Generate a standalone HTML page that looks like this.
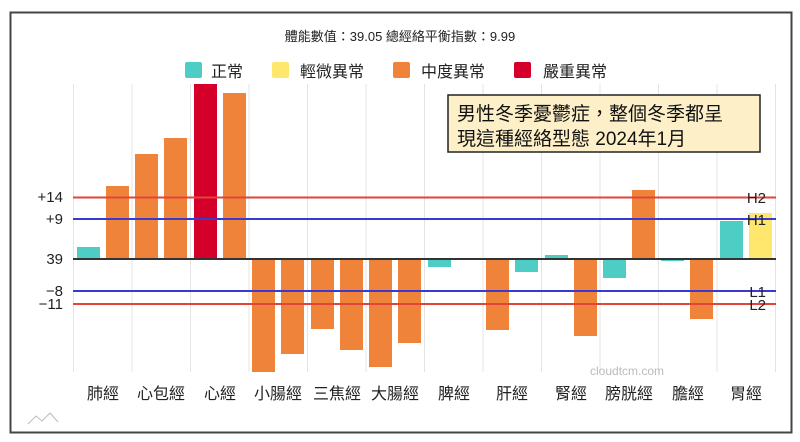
<!DOCTYPE html>
<html><head><meta charset="utf-8"><style>
html,body{margin:0;padding:0;background:#fff;}
svg{display:block;font-family:"Liberation Sans","Noto Sans CJK TC",sans-serif;}
</style></head><body>
<svg width="800" height="442" viewBox="0 0 800 442" xmlns="http://www.w3.org/2000/svg">
<rect x="0" y="0" width="800" height="442" fill="#fff"/>
<rect x="10.5" y="12.5" width="781" height="420" fill="#fff" stroke="#444" stroke-width="2"/>
<text x="400" y="41" font-size="13" text-anchor="middle" fill="#222">體能數值：39.05 總經絡平衡指數：9.99</text>
<g font-size="16" fill="#222">
<rect x="185" y="62" width="17" height="16" rx="2" fill="#4ecdc4"/><text x="211" y="77">正常</text>
<rect x="272" y="62" width="17" height="16" rx="2" fill="#ffe66d"/><text x="300" y="77">輕微異常</text>
<rect x="393" y="62" width="17" height="16" rx="2" fill="#f0833a"/><text x="421" y="77">中度異常</text>
<rect x="514" y="62" width="17" height="16" rx="2" fill="#d4002a"/><text x="543" y="77">嚴重異常</text>
</g>
<g stroke="#e4e4e4" stroke-width="1">
<line x1="73.5" y1="84" x2="73.5" y2="372"/><line x1="132" y1="84" x2="132" y2="372"/><line x1="190.5" y1="84" x2="190.5" y2="372"/><line x1="249" y1="84" x2="249" y2="372"/><line x1="307.5" y1="84" x2="307.5" y2="372"/><line x1="366" y1="84" x2="366" y2="372"/><line x1="424.5" y1="84" x2="424.5" y2="372"/><line x1="483" y1="84" x2="483" y2="372"/><line x1="541.5" y1="84" x2="541.5" y2="372"/><line x1="600" y1="84" x2="600" y2="372"/><line x1="658.5" y1="84" x2="658.5" y2="372"/><line x1="717" y1="84" x2="717" y2="372"/><line x1="775.5" y1="84" x2="775.5" y2="372"/>
</g>
<g>
<rect x="77" y="247" width="23" height="12" fill="#4ecdc4"/>
<rect x="106" y="186" width="23" height="73" fill="#f0833a"/>
<rect x="135" y="154" width="23" height="105" fill="#f0833a"/>
<rect x="164" y="138" width="23" height="121" fill="#f0833a"/>
<rect x="194" y="84" width="23" height="175" fill="#d4002a"/>
<rect x="223" y="93" width="23" height="166" fill="#f0833a"/>
<rect x="252" y="259" width="23" height="113" fill="#f0833a"/>
<rect x="281" y="259" width="23" height="95" fill="#f0833a"/>
<rect x="311" y="259" width="23" height="70" fill="#f0833a"/>
<rect x="340" y="259" width="23" height="91" fill="#f0833a"/>
<rect x="369" y="259" width="23" height="108" fill="#f0833a"/>
<rect x="398" y="259" width="23" height="84" fill="#f0833a"/>
<rect x="428" y="259" width="23" height="8" fill="#4ecdc4"/>
<rect x="486" y="259" width="23" height="71" fill="#f0833a"/>
<rect x="515" y="259" width="23" height="13" fill="#4ecdc4"/>
<rect x="545" y="255" width="23" height="4" fill="#4ecdc4"/>
<rect x="574" y="259" width="23" height="77" fill="#f0833a"/>
<rect x="603" y="259" width="23" height="19" fill="#4ecdc4"/>
<rect x="632" y="190" width="23" height="69" fill="#f0833a"/>
<rect x="661" y="259" width="23" height="2" fill="#4ecdc4"/>
<rect x="690" y="259" width="23" height="60" fill="#f0833a"/>
<rect x="720" y="221" width="23" height="38" fill="#4ecdc4"/>
<rect x="749" y="213" width="23" height="46" fill="#ffe66d"/>
</g>
<line x1="73" y1="197.5" x2="776" y2="197.5" stroke="#e0443a" stroke-width="2"/>
<line x1="73" y1="219" x2="776" y2="219" stroke="#3a3ad0" stroke-width="2"/>
<line x1="73" y1="259" x2="776" y2="259" stroke="#333" stroke-width="2"/>
<line x1="73" y1="291" x2="776" y2="291" stroke="#3a3ad0" stroke-width="2"/>
<line x1="73" y1="304" x2="776" y2="304" stroke="#e0443a" stroke-width="2"/>
<g font-size="15" fill="#222" text-anchor="end">
<text x="766" y="203">H2</text><text x="766" y="225">H1</text><text x="766" y="297">L1</text><text x="766" y="310">L2</text>
</g>
<g font-size="15" fill="#222" text-anchor="end">
<text x="63" y="202">+14</text><text x="63" y="224">+9</text><text x="63" y="264">39</text><text x="63" y="296">−8</text><text x="63" y="309">−11</text>
</g>
<text x="590" y="375" font-size="12" fill="#bbb">cloudtcm.com</text>
<g font-size="16" fill="#222" text-anchor="middle">
<text x="103" y="399">肺經</text><text x="161" y="399">心包經</text><text x="220" y="399">心經</text><text x="278" y="399">小腸經</text><text x="337" y="399">三焦經</text><text x="395" y="399">大腸經</text><text x="454" y="399">脾經</text><text x="512" y="399">肝經</text><text x="571" y="399">腎經</text><text x="629" y="399">膀胱經</text><text x="688" y="399">膽經</text><text x="746" y="399">胃經</text>
</g>
<path d="M28 424 L36 416 L42 421 L50 413 L58 422" fill="none" stroke="#bbb" stroke-width="1"/>
<rect x="448" y="95" width="312" height="57" fill="#fdf0c8" stroke="#222" stroke-width="1.5"/>
<g font-size="19" fill="#111">
<text x="457" y="120">男性冬季憂鬱症，整個冬季都呈</text>
<text x="457" y="145">現這種經絡型態 2024年1月</text>
</g>
</svg>
</body></html>
